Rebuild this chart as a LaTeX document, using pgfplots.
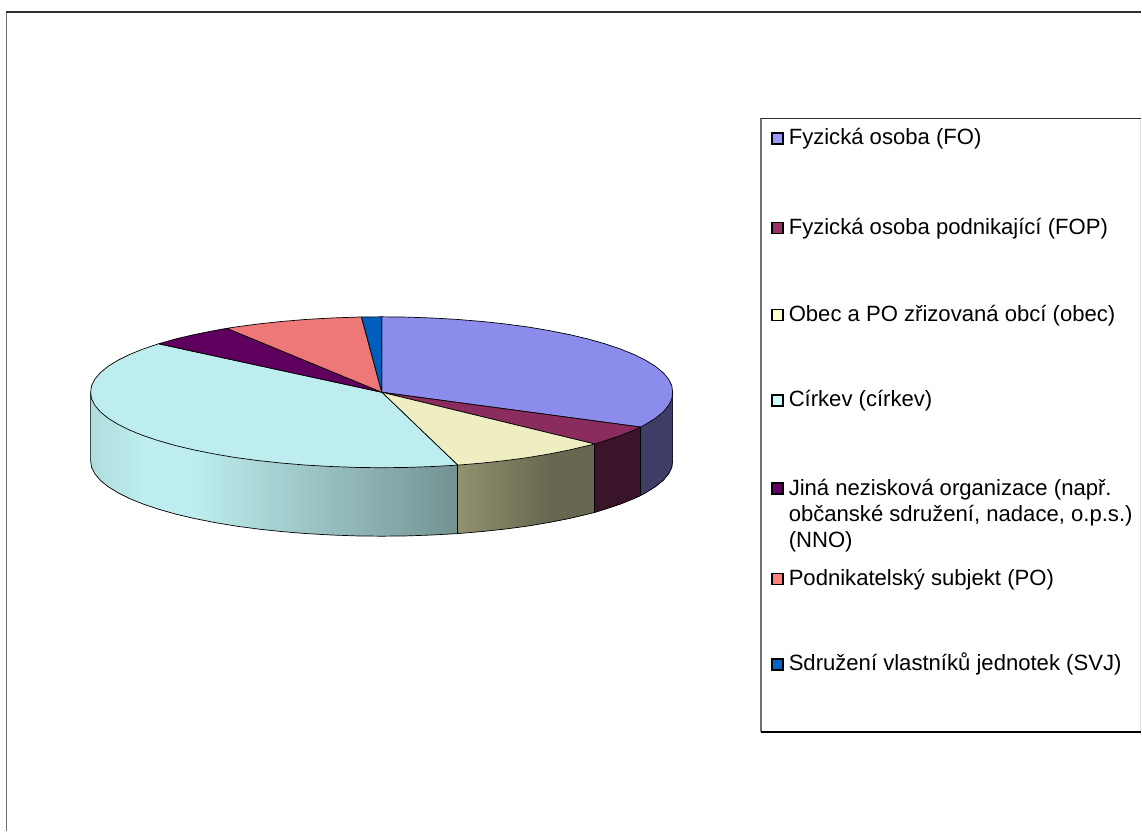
\documentclass[border=0pt]{standalone}
\usepackage{fontspec}
\setmainfont{Liberation Sans}
\usepackage{pgfplots}
\pgfplotsset{compat=1.18}
\definecolor{foT}{HTML}{8C8CEC}
\definecolor{fopT}{HTML}{8B2C5E}
\definecolor{obT}{HTML}{EEEEC2}
\definecolor{ciT}{HTML}{BDEDEE}
\definecolor{nnT}{HTML}{5F005F}
\definecolor{poT}{HTML}{EE7777}
\definecolor{svT}{HTML}{005FBE}
\definecolor{foS}{HTML}{3D3D66}
\definecolor{fopS}{HTML}{3A1428}
\definecolor{obA}{HTML}{92916F}
\definecolor{obB}{HTML}{686850}
\definecolor{ciA}{HTML}{B0DCDC}
\definecolor{ciB}{HTML}{739292}
\definecolor{foL}{HTML}{9999FF}
\definecolor{fopL}{HTML}{993366}
\definecolor{obL}{HTML}{FFFFCC}
\definecolor{ciL}{HTML}{CCFFFF}
\definecolor{nnL}{HTML}{660066}
\definecolor{poL}{HTML}{FF8080}
\definecolor{svL}{HTML}{0066CC}
\definecolor{edge}{HTML}{303030}
\definecolor{edgeL}{HTML}{707070}
\definecolor{edgeR}{HTML}{E0E0E0}
\newcommand{\strip}[2]{\addplot[fill=#1,draw=#1,line width=0.4pt] coordinates {#2} -- cycle;}
\newcommand{\grad}[3]{\addplot[left color=#1,right color=#2,draw=none] coordinates {#3} -- cycle;}
\newcommand{\slice}[2]{\addplot[fill=#1,draw=black,line width=0.7pt,line join=round] coordinates {#2} -- cycle;}
\newcommand{\legkey}[3]{\addplot[fill=#1,draw=black,line width=1.5pt] coordinates {(772.5,#2)(783.5,#2)(783.5,#3)(772.5,#3)} -- cycle;}
\newcommand{\legtxt}[2]{\node[anchor=base west,inner sep=0pt,font=\fontsize{22.1}{26}\selectfont] at (axis cs:789,#1) {#2};}
\begin{document}
\begin{tikzpicture}
\begin{axis}[x=1pt,y=1pt,y dir=reverse,xmin=0,xmax=1142,ymin=0,ymax=831,hide axis,clip=false]
\addplot[draw=none] coordinates {(0,0)(1142,831)};
% chart frame: only left and top show
\addplot[draw=edgeL,line width=1.3pt] coordinates {(6.5,12)(6.5,831)};
\addplot[draw=edge,line width=1.3pt] coordinates {(6.5,12)(1142,12)};
% legend frame
\addplot[draw=edgeR,line width=1pt] coordinates {(1141.5,118.5)(1141.5,732.5)};
\addplot[draw=edgeL,line width=1.3pt] coordinates {(761.5,118.5)(761.5,732.5)};
\addplot[draw=edge,line width=1.3pt] coordinates {(761,118.5)(1142,118.5)};
\addplot[draw=black,line width=1.3pt] coordinates {(761,732.5)(1142,732.5)};
% side wall, FO and FOP flat
\strip{foS}{(673,392.5)(672.2,399.1)(669,405.6)(663.6,412.1)(655.9,418.4)(646.2,424.4)(641,427.3)(641,495.8)(646.2,492.9)(655.9,486.9)(663.6,480.6)(669,474.1)(672.2,467.6)(673,461)}
\strip{fopS}{(641,427.3)(634.4,430.3)(620.8,435.8)(605.3,441)(595,444.2)(595,512.7)(605.3,509.5)(620.8,504.3)(634.4,498.8)(641,495.8)}
% side wall, obec
\strip{obB}{(595,444.2)(588.1,445.9)(569.4,450.3)(549.2,454.3)(549.2,522.8)(569.4,518.8)(588.1,514.4)(595,512.7)}
\grad{obA}{obB}{(549.2,454.3)(527.8,457.9)(505.2,460.9)(481.7,463.4)(458,465.4)(458,533.9)(481.7,531.9)(505.2,529.4)(527.8,526.4)(549.2,522.8)}
% side wall, cirkev
\grad{ciT}{ciB}{(458,465.4)(432.6,466.8)(407.4,467.7)(382,468)(356.6,467.7)(331.4,466.8)(306.6,465.4)(282.3,463.4)(258.8,460.9)(236.2,457.9)(214.8,454.3)(194.6,450.3)(194.6,518.8)(214.8,522.8)(236.2,526.4)(258.8,529.4)(282.3,531.9)(306.6,533.9)(331.4,535.3)(356.6,536.2)(382,536.5)(407.4,536.2)(432.6,535.3)(458,533.9)}
\strip{ciT}{(194.6,450.3)(175.9,445.9)(158.7,441)(143.2,435.8)(143.2,504.3)(158.7,509.5)(175.9,514.4)(194.6,518.8)}
\grad{ciA}{ciT}{(143.2,435.8)(129.6,430.3)(117.8,424.4)(108.1,418.4)(100.4,412.1)(94.9,405.6)(91.6,399.1)(90.7,392.5)(90.7,461)(91.6,467.6)(94.9,474.1)(100.4,480.6)(108.1,486.9)(117.8,492.9)(129.6,498.8)(143.2,504.3)}
% side wall outline and vertical edges
\addplot[draw=black,line width=0.7pt] coordinates {(90.7,392.5)(90.7,461)(91.6,467.6)(94.9,474.1)(100.4,480.6)(108.1,486.9)(117.8,492.9)(129.6,498.8)(143.2,504.3)(158.7,509.5)(175.9,514.4)(194.6,518.8)(214.8,522.8)(236.2,526.4)(258.8,529.4)(282.3,531.9)(306.6,533.9)(331.4,535.3)(356.6,536.2)(382,536.5)(407.4,536.2)(432.6,535.3)(458,533.9)(481.7,531.9)(505.2,529.4)(527.8,526.4)(549.2,522.8)(569.4,518.8)(588.1,514.4)(595,512.7)(605.3,509.5)(620.8,504.3)(634.4,498.8)(641,495.8)(646.2,492.9)(655.9,486.9)(663.6,480.6)(669,474.1)(672.2,467.6)(673,461)(673,392.5)};
\addplot[draw=black,line width=0.7pt] coordinates {(641,427.3)(641,495.8)};
\addplot[draw=black,line width=0.7pt] coordinates {(595,444.2)(595,512.7)};
\addplot[draw=black,line width=0.7pt] coordinates {(458,465.4)(458,533.9)};
% top face
\slice{foT}{(382,392.5)(382,317)(407.4,317.3)(432.6,318.2)(457.4,319.6)(481.7,321.6)(505.2,324.1)(527.8,327.1)(549.2,330.7)(569.4,334.7)(588.1,339.1)(605.3,344)(620.8,349.2)(634.4,354.7)(646.2,360.6)(655.9,366.6)(663.6,372.9)(669,379.4)(672.2,385.9)(673,392.5)(672.2,399.1)(669,405.6)(663.6,412.1)(655.9,418.4)(646.2,424.4)(641,427.3)}
\slice{fopT}{(382,392.5)(641,427.3)(634.4,430.3)(620.8,435.8)(605.3,441)(595,444.2)}
\slice{obT}{(382,392.5)(595,444.2)(588.1,445.9)(569.4,450.3)(549.2,454.3)(527.8,457.9)(505.2,460.9)(481.7,463.4)(458,465.4)}
\slice{ciT}{(382,392.5)(458,465.4)(432.6,466.8)(407.4,467.7)(382,468)(356.6,467.7)(331.4,466.8)(306.6,465.4)(282.3,463.4)(258.8,460.9)(236.2,457.9)(214.8,454.3)(194.6,450.3)(175.9,445.9)(158.7,441)(143.2,435.8)(129.6,430.3)(117.8,424.4)(108.1,418.4)(100.4,412.1)(94.9,405.6)(91.6,399.1)(90.7,392.5)(91.6,385.9)(94.9,379.4)(100.4,372.9)(108.1,366.6)(117.8,360.6)(129.6,354.7)(143.2,349.2)(158.7,344)}
\slice{nnT}{(382,392.5)(158.7,344)(175.9,339.1)(194.6,334.7)(214.8,330.7)(227,328.5)}
\slice{poT}{(382,392.5)(227,328.5)(236.2,327.1)(258.8,324.1)(282.3,321.6)(306.6,319.6)(331.4,318.2)(356.6,317.3)(361.7,317.2)}
\slice{svT}{(382,392.5)(361.7,317.2)(382,317)}
% legend
\legkey{foL}{133}{144}
\legkey{fopL}{222.5}{233.5}
\legkey{obL}{309.5}{320.5}
\legkey{ciL}{395}{406}
\legkey{nnL}{483.5}{494.5}
\legkey{poL}{574}{585}
\legkey{svL}{659.5}{670.5}
\legtxt{145}{Fyzická osoba (FO)}
\legtxt{235}{Fyzická osoba podnikající (FOP)}
\legtxt{321.5}{Obec a PO zřizovaná obcí (obec)}
\legtxt{407}{Církev (církev)}
\legtxt{496}{Jiná nezisková organizace (např.}
\legtxt{522}{občanské sdružení, nadace, o.p.s.)}
\legtxt{548}{(NNO)}
\legtxt{585.5}{Podnikatelský subjekt (PO)}
\legtxt{671}{Sdružení vlastníků jednotek (SVJ)}
\end{axis}
\end{tikzpicture}
\end{document}
